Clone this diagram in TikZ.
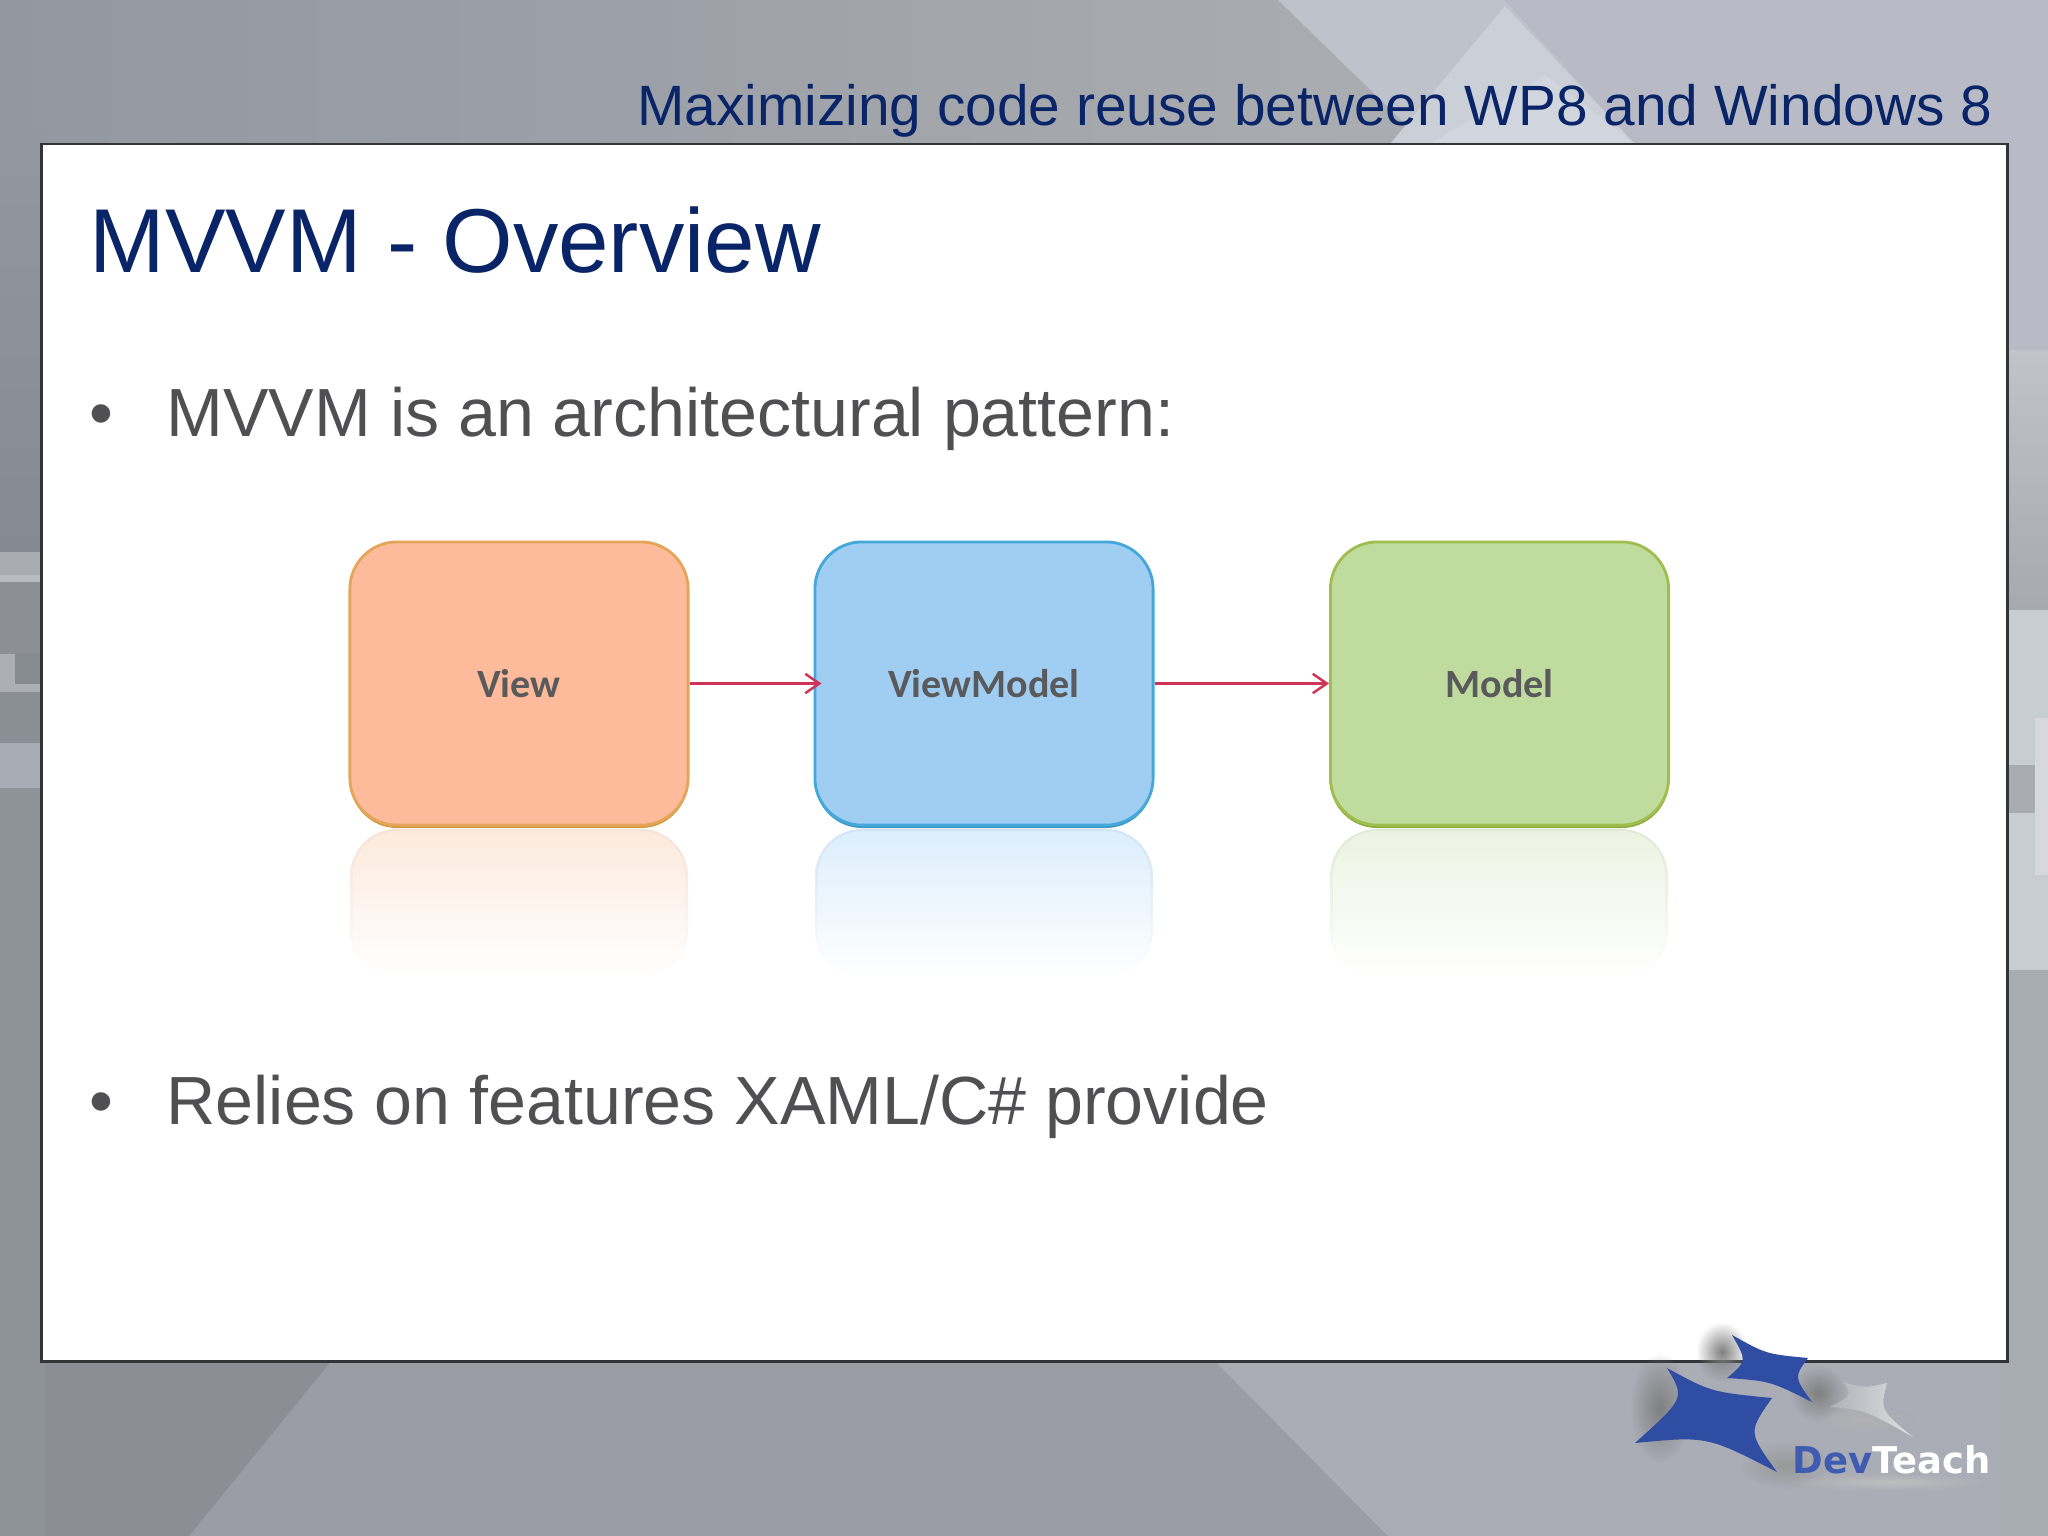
\documentclass[tikz,border=0pt]{standalone}
\usepackage{fontspec}
\setmainfont{Liberation Sans}
\newfontfamily\boxfont{Carlito}
\newfontfamily\logofont{DejaVu Sans}
\usetikzlibrary{arrows.meta,fadings,calc}
\tikzfading[name=softblob, inner color=transparent!0, outer color=transparent!100]
\definecolor{navy}{HTML}{0A2468}
\definecolor{bodygrey}{HTML}{505052}
\definecolor{labelgrey}{HTML}{5A5A5C}
\definecolor{frameline}{HTML}{333438}
\definecolor{arrowred}{HTML}{CF3355}
\definecolor{logoblue}{HTML}{2F4EA3}
\definecolor{devblue}{HTML}{3F5CB0}
\definecolor{bgL}{HTML}{9298A0}
\definecolor{bgR}{HTML}{B0B3BD}
\definecolor{topA}{HTML}{9EA2A8}
\definecolor{topB}{HTML}{AAAEB2}
\definecolor{bandA}{HTML}{BEC3CB}
\definecolor{bandB}{HTML}{B8BBC5}
\definecolor{diaA}{HTML}{CBCFD8}
\definecolor{diaB}{HTML}{D1D5DD}
\definecolor{leftTop}{HTML}{9298A0}
\definecolor{leftLow}{HTML}{848A91}
\definecolor{lstripeA}{HTML}{A8ACB2}
\definecolor{lstripeB}{HTML}{B8BCC0}
\definecolor{ldarkA}{HTML}{8C9096}
\definecolor{ldarkB}{HTML}{868A91}
\definecolor{lpale}{HTML}{ACB0B6}
\definecolor{ldarkC}{HTML}{8A8E95}
\definecolor{lbandC}{HTML}{A8ACB4}
\definecolor{lrest}{HTML}{8E9299}
\definecolor{rTop}{HTML}{C0C3CA}
\definecolor{rLow}{HTML}{A6A9AF}
\definecolor{rPale}{HTML}{C8CCD3}
\definecolor{rDark}{HTML}{A8ABB2}
\definecolor{rBright}{HTML}{D6D8DE}
\definecolor{rRest}{HTML}{A8ACB3}
\definecolor{botMid}{HTML}{9A9DA6}
\definecolor{botLeft}{HTML}{8B8E94}
\definecolor{botRight}{HTML}{AAACB6}
\definecolor{viewFill}{HTML}{FDBB9C}
\definecolor{viewLine}{HTML}{E4A55A}
\definecolor{viewBase}{HTML}{D09A3A}
\definecolor{vmFill}{HTML}{A0CDF2}
\definecolor{vmLine}{HTML}{46A8D8}
\definecolor{vmBase}{HTML}{3E96C4}
\definecolor{modelFill}{HTML}{BFDC9E}
\definecolor{modelLine}{HTML}{A0BE50}
\definecolor{modelBase}{HTML}{8CAC3C}
\definecolor{viewMirA}{HTML}{F6E2D6}
\definecolor{viewMirB}{HTML}{FCEADD}
\definecolor{vmMirA}{HTML}{D0E4F4}
\definecolor{vmMirB}{HTML}{DCEEFC}
\definecolor{modelMirA}{HTML}{E0E9D4}
\definecolor{modelMirB}{HTML}{ECF3E2}
\definecolor{logoGreyA}{HTML}{B0B2B8}
\definecolor{logoGreyB}{HTML}{DEDFE2}
\tikzset{
  headtext/.style={anchor=base east,inner sep=0pt,text=navy,font=\fontsize{16.16pt}{18pt}\selectfont},
  titletext/.style={anchor=base west,inner sep=0pt,text=navy,font=\fontsize{25.8pt}{28pt}\selectfont},
  bodytext/.style={anchor=base west,inner sep=0pt,text=bodygrey,font=\fontsize{19.38pt}{22pt}\selectfont},
  bullettext/.style={anchor=base,inner sep=0pt,text=bodygrey,font=\fontsize{19.35pt}{22pt}\selectfont},
  mvvmbox/.style={rounded corners=0.47cm,minimum width=3.38cm,minimum height=2.83cm,inner sep=0pt,line width=0.8pt,text=labelgrey,font=\boxfont\bfseries\fontsize{11.4pt}{13pt}\selectfont},
  linkarrow/.style={draw=arrowred,line width=0.7pt,-{Straight Barb[length=4pt,width=5.5pt]}},
  softshadow/.style={fill=#1,path fading=softblob},
}
\newcommand{\mirrorshade}[3]{%
  \shade[top color=#2,middle color=#2!60!white,bottom color=white,rounded corners=0.47cm] (#1,829) rectangle ++(338,148);
  \shade[top color=#3,middle color=#3!60!white,bottom color=white,rounded corners=0.44cm] ($(#1,829)+(3,2)$) rectangle ++(332,146);
}
\begin{document}
\begin{tikzpicture}[x=0.01cm,y=-0.01cm]
\useasboundingbox (0,0) rectangle (2048,1536);
% background
\shade[left color=bgL,right color=bgR] (0,0) rectangle (2048,1536);
\shade[left color=topA,right color=topB] (700,0) -- (1278,0) -- (1426,144) -- (700,144) -- cycle;
% top wedges
\fill[fill=bandA] (1278,0) -- (1505,0) -- (1635,144) -- (1426,144) -- cycle;
\fill[fill=bandB] (1505,0) -- (2048,0) -- (2048,350) -- (1960,350) -- (1960,144) -- (1635,144) -- cycle;
\fill[fill=diaA] (1505,6) -- (1635,144) -- (1390,144) -- cycle;
\fill[fill=diaB] (1545,75) -- (1635,144) -- (1430,144) -- cycle;
% left-edge bands
\shade[top color=leftTop,bottom color=leftLow] (0,130) rectangle (45,552);
\fill[fill=lstripeA] (0,552) rectangle (45,575);
\fill[fill=lstripeB] (0,575) rectangle (45,582);
\fill[fill=ldarkA] (0,582) rectangle (45,654);
\fill[fill=ldarkB] (15,654) rectangle (45,684);
\fill[fill=lpale] (0,654) rectangle (15,684);
\fill[fill=lpale] (0,684) rectangle (45,692);
\fill[fill=ldarkC] (0,692) rectangle (45,743);
\fill[fill=lbandC] (0,743) rectangle (45,788);
\fill[fill=lrest] (0,788) rectangle (45,1536);
% right-edge bands
\shade[top color=rTop,bottom color=rLow] (2000,350) rectangle (2048,610);
\fill[fill=rPale] (2000,610) rectangle (2048,970);
\fill[fill=rDark] (2000,765) rectangle (2035,813);
\fill[fill=rBright] (2035,718) rectangle (2048,875);
\fill[fill=rRest] (2000,970) rectangle (2048,1536);
% bottom wedges
\fill[fill=botMid] (332,1360) -- (1214,1360) -- (1388,1536) -- (189,1536) -- cycle;
\fill[fill=botLeft] (45,1360) -- (332,1360) -- (189,1536) -- (45,1536) -- cycle;
\fill[fill=botRight] (1214,1360) -- (2000,1360) -- (2000,1536) -- (1388,1536) -- cycle;
% panel
\node[draw=frameline,fill=white,line width=0.7pt,minimum width=19.65cm,minimum height=12.165cm,inner sep=0pt] (panel) at (1024.5,752.75) {};
% reflections
\mirrorshade{350}{viewMirA}{viewMirB}
\mirrorshade{815}{vmMirA}{vmMirB}
\mirrorshade{1330}{modelMirA}{modelMirB}
% boxes: darker lower edge under each
\fill[fill=viewBase,rounded corners=0.47cm] (350,545) rectangle (688,828);
\fill[fill=vmBase,rounded corners=0.47cm] (815,545) rectangle (1153,828);
\fill[fill=modelBase,rounded corners=0.47cm] (1330,545) rectangle (1669,828);
\node[mvvmbox,draw=viewLine,fill=viewFill] (boxview) at (519,683.5) {View};
\node[mvvmbox,draw=vmLine,fill=vmFill] (boxvm) at (984,683.5) {ViewModel};
\node[mvvmbox,draw=modelLine,fill=modelFill] (boxmodel) at (1499.5,683.5) {Model};
\draw[linkarrow] (boxview.east) -- ([xshift=0.08cm]boxvm.west);
\draw[linkarrow] (boxvm.east) -- (boxmodel.west);
% text
\node[headtext] (header) at (1993,125) {Maximizing code reuse between WP8 and Windows 8};
\node[titletext] (title) at (89,272) {MVVM - Overview};
\node[bullettext] (bulletone) at (101,436) {•};
\node[bodytext] (lineone) at (166,436) {MVVM is an architectural pattern:};
\node[bullettext] (bullettwo) at (101,1124) {•};
\node[bodytext] (linetwo) at (166,1124) {Relies on features XAML/C\# provide};
% logo shadows
\fill[softshadow=black!50] (1660,1408) ellipse (30 and 55);
\fill[softshadow=black!50] (1722,1352) ellipse (26 and 30);
\fill[softshadow=black!50] (1818,1393) ellipse (28 and 28);
\fill[softshadow=black!40] (1785,1465) ellipse (45 and 24);
\fill[softshadow=black!30] (1865,1420) ellipse (50 and 14);
\fill[softshadow=black!25] (1890,1482) ellipse (105 and 9);
% logo stars
\fill[fill=logoblue] (1667,1368) .. controls (1711,1392) .. (1772,1398) .. controls (1748,1432) .. (1777,1472) .. controls (1707,1436) .. (1635,1443) .. controls (1685,1398) .. (1667,1368) -- cycle;
\fill[fill=logoblue] (1732,1335) .. controls (1766,1354) .. (1808,1358) .. controls (1794,1377) .. (1812,1402) .. controls (1770,1381) .. (1727,1378) .. controls (1747,1361) .. (1732,1335) -- cycle;
\shade[left color=logoGreyA,right color=logoGreyB] (1843,1382) .. controls (1865,1388) .. (1887,1383) .. controls (1880,1410) .. (1913,1437) .. controls (1865,1410) .. (1830,1407) .. controls (1852,1395) .. (1843,1382) -- cycle;
\node[anchor=base west,inner sep=0pt,font=\logofont\bfseries\fontsize{10.5pt}{12pt}\selectfont] (logotext) at (1792,1473) {\textcolor{devblue}{Dev}\textcolor{white}{Teach}};
\end{tikzpicture}
\end{document}
